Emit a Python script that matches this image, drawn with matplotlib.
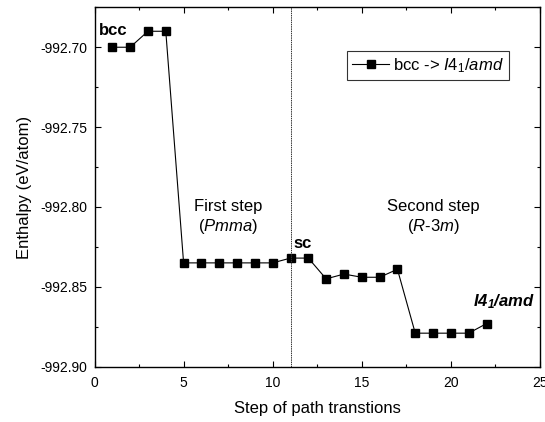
import numpy as np
import matplotlib
matplotlib.use("Agg")
import matplotlib.pyplot as plt
from matplotlib.ticker import MultipleLocator, FormatStrFormatter

plt.rcParams['font.family'] = ['Liberation Sans', 'DejaVu Sans']
plt.rcParams['mathtext.fontset'] = 'custom'
plt.rcParams['mathtext.rm'] = 'Liberation Sans'
plt.rcParams['mathtext.it'] = 'Liberation Sans:italic'
plt.rcParams['mathtext.bf'] = 'Liberation Sans:italic:bold'

# path steps and enthalpy
steps = list(range(1, 23))
enthalpy = [-992.700, -992.700, -992.690, -992.690,
            -992.835, -992.835, -992.835, -992.835, -992.835, -992.835,
            -992.832, -992.832, -992.845, -992.842, -992.844, -992.844,
            -992.839, -992.879, -992.879, -992.879, -992.879, -992.873]
split_step = 11

fig = plt.figure(figsize=(5.45, 4.22), dpi=100)
ax = fig.add_axes([0.1734, 0.131, 0.8174, 0.8517])

ax.plot(steps, enthalpy, color='black', lw=0.8, marker='s', ms=6,
        label=r'bcc -> $\mathit{I4_1/amd}$')
ax.axvline(split_step, color='#333333', lw=0.7, ls=(0, (1.5, 0.8)))

ax.set_xlim(0, 25)
ax.set_ylim(-992.90, -992.675)
ax.xaxis.set_major_locator(MultipleLocator(5))
ax.xaxis.set_minor_locator(MultipleLocator(2.5))
ax.yaxis.set_major_locator(MultipleLocator(0.05))
ax.yaxis.set_minor_locator(MultipleLocator(0.025))
ax.yaxis.set_major_formatter(FormatStrFormatter('%.2f'))
ax.tick_params(which='both', direction='in', top=True, right=True, labelsize=10, width=0.8)
ax.tick_params(which='major', length=4.5)
ax.tick_params(which='minor', length=2.5)
ax.tick_params(axis='x', which='major', pad=6.5)
ax.tick_params(axis='y', which='major', pad=5)
for s in ax.spines.values():
    s.set_linewidth(1.0)

ax.set_xlabel('Step of path transtions', fontsize=12, labelpad=8)
ax.set_ylabel('Enthalpy (eV/atom)', fontsize=12, labelpad=6)

ax.text(0.25, -992.6896, 'bcc', fontsize=12, fontweight='bold', va='center', ha='left')
ax.text(11.15, -992.8227, 'sc', fontsize=12, fontweight='bold', va='center', ha='left')
ax.text(23.0, -992.859, r'$\mathbf{I4_1/amd}$', fontsize=12, va='center', ha='center')
ax.text(7.5, -992.800, 'First step', fontsize=12, ha='center', va='center')
ax.text(7.5, -992.8125, r'($\mathit{Pmma}$)', fontsize=12, ha='center', va='center')
ax.text(19.0, -992.800, 'Second step', fontsize=12, ha='center', va='center')
ax.text(19.0, -992.8125, r'($\mathit{R}$-$\mathit{3m}$)', fontsize=12, ha='center', va='center')

leg = ax.legend(loc='upper right', bbox_to_anchor=(0.934, 0.879), bbox_transform=fig.transFigure,
                fontsize=12, frameon=True, fancybox=False, handlelength=2.2,
                borderpad=0.3, handletextpad=0.25, borderaxespad=0)
leg.get_frame().set_edgecolor('black')
leg.get_frame().set_linewidth(0.8)

fig.savefig('out.png', dpi=100)
